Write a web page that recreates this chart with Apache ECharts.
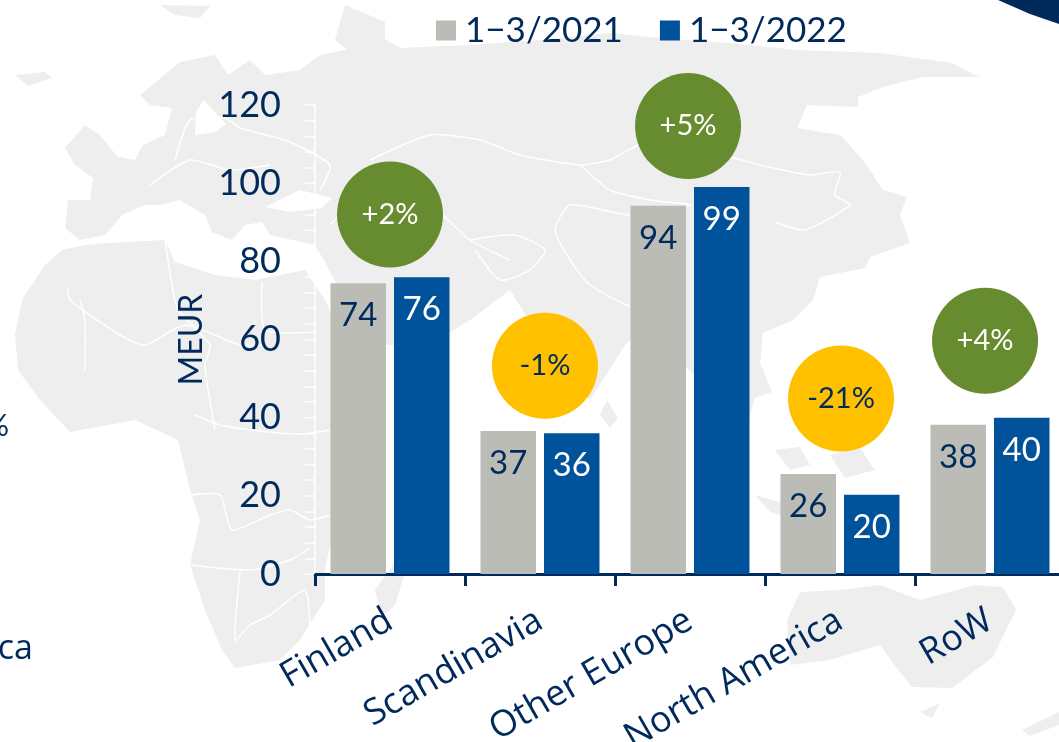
<!DOCTYPE html>
<html><head><meta charset="utf-8">
<style>html,body{margin:0;padding:0;background:#fff;overflow:hidden}#c{width:1059px;height:742px}</style>
<script src="https://cdn.jsdelivr.net/npm/echarts@6/dist/echarts.min.js"></script>
</head><body><div id="c"></div>
<script>
const categories = ['Finland','Scandinavia','Other Europe','North America','RoW'];
const seriesA = '1−3/2021';
const seriesB = '1−3/2022';
const values2021 = [74.4,36.6,94.2,25.6,38.2];
const values2022 = [75.9,36.0,99.0,20.3,40.0];
const changeLabels = ['+2%','-1%','+5%','-21%','+4%'];
const changeX = [0.5,1.533,2.487,3.507,4.467];
const changeY = [92,53.3,114.6,44.9,59.7];
const NAVY='#002A5C', GREY='#BBBCB6', BLUE='#00539B', GREEN='#678B2F', YELLOW='#FFC000', LAND='#EEEEEE';
const NUM='Lato, "Open Sans", sans-serif', TXT='"Open Sans", sans-serif';

const land = [
 [[68,200],[90,200],[93,178],[82,170],[110,155],[135,160],[143,145],[165,135],[172,108],[150,105],[140,95],[180,62],[215,55],[228,75],[250,60],[265,75],[300,70],[320,55],[345,50],[370,30],[400,48],[470,45],[540,40],[610,33],[660,38],[730,43],[797,50],[880,53],[952,63],[979,77],[923,77],[883,87],[858,97],[858,107],[807,105],[797,128],[840,135],[863,160],[883,190],[907,197],[900,215],[910,243],[870,257],[865,268],[820,277],[813,300],[793,320],[763,333],[760,363],[772,392],[755,398],[745,430],[680,360],[640,330],[625,345],[590,400],[575,385],[545,330],[527,317],[510,290],[470,320],[430,345],[385,345],[345,300],[325,262],[315,245],[270,235],[262,222],[245,225],[232,240],[212,232],[205,215],[180,200],[160,205],[145,205],[122,215],[105,235],[80,240],[65,228]],
 [[15,335],[22,300],[45,265],[62,250],[85,245],[108,243],[165,240],[175,262],[215,275],[255,280],[305,270],[325,300],[345,345],[385,345],[345,430],[335,520],[325,570],[325,600],[300,640],[280,660],[235,668],[222,650],[205,610],[190,565],[200,520],[190,490],[178,440],[135,420],[70,432],[40,400],[18,370]],
 [[787,620],[800,592],[840,590],[880,585],[920,600],[975,585],[1003,587],[1016,610],[993,657],[952,688],[912,687],[893,663],[880,645],[830,660],[790,665]],
 [[375,590],[395,562],[405,572],[395,605],[382,617]],
 [[65,148],[85,125],[100,135],[120,160],[85,172],[75,165]],
 [[15,75],[45,72],[52,78],[28,86]],
 [[920,712],[940,703],[932,718]],
 [[1022,730],[1059,712],[1059,725],[1030,736]],
 [[775,450],[800,447],[810,465],[790,470]],
 [[830,455],[860,448],[875,470],[845,478]],
 [[755,495],[790,505],[800,520],[770,512]],
 [[600,415],[607,400],[618,418],[610,428]],
 [[345,5],[385,22],[385,45],[355,55],[335,40]],
 [[160,5],[210,6],[200,18],[175,15]]
];
const seas = [
 [[265,207],[300,190],[332,198],[322,208],[290,212]],
 [[195,135],[215,132],[226,124],[204,100],[196,112]]
];
const borders = [
 [[68,288],[70,300],[120,335],[145,345],[185,325],[240,345],[262,345]],
 [[80,300],[85,320],[85,370]],
 [[165,240],[172,285],[178,310],[210,345],[205,365],[215,430]],
 [[262,282],[265,330],[315,332]],
 [[195,415],[220,425],[250,430],[300,434],[330,430]],
 [[190,495],[220,495],[232,530],[270,515],[290,510],[310,520],[330,515]],
 [[190,565],[250,570],[290,560],[310,548]],
 [[240,572],[235,640],[250,625],[270,615],[305,590],[310,630]],
 [[175,160],[190,120],[225,118],[240,128],[285,140],[330,165],[320,190]],
 [[150,185],[190,160],[230,170],[270,165]],
 [[330,225],[370,190],[430,205],[470,240],[510,260]],
 [[370,160],[430,135],[480,140],[520,155],[580,165],[610,160],[640,145],[660,160],[700,150],[760,165],[810,175],[840,172],[835,195],[850,205],[805,230],[775,222]],
 [[580,165],[610,190],[650,200],[690,205],[630,215],[570,205],[555,230],[570,260],[590,285],[640,310],[685,305]],
 [[470,240],[515,235],[545,250],[530,270],[500,280],[475,250]]
];
const graphics = [];
land.forEach(p=>graphics.push({type:'polygon',z:-3,silent:true,shape:{points:p},style:{fill:LAND}}));
seas.forEach(p=>graphics.push({type:'polygon',z:-2,silent:true,shape:{points:p},style:{fill:'#fff'}}));
borders.forEach(p=>graphics.push({type:'polyline',z:-2,silent:true,shape:{points:p,smooth:0.2},style:{fill:'none',stroke:'#fff',lineWidth:1.5}}));
graphics.push({type:'polygon',z:5,silent:true,shape:{points:[[998,0],[1059,0],[1059,24],[1030,14]]},style:{fill:NAVY}});
graphics.push({type:'text',z:5,silent:true,style:{x:33,y:649,text:'ca',align:'right',verticalAlign:'middle',fontFamily:TXT,fontSize:34,fill:NAVY}});
graphics.push({type:'text',z:5,silent:true,style:{x:9,y:426,text:'%',align:'right',verticalAlign:'middle',fontFamily:NUM,fontSize:30,fill:NAVY}});

const barLabel = c => ({show:true,position:'insideTop',distance:16,color:c,fontFamily:NUM,fontSize:33,formatter:p=>Math.round(p.value)});
const chart = echarts.init(document.getElementById('c'),null,{renderer:'canvas'});
chart.setOption({
 animation:false,
 backgroundColor:'#fff',
 legend:{left:431,top:8,itemWidth:20,itemHeight:20,itemGap:37,icon:'rect',
   data:[seriesA,seriesB],textStyle:{color:NAVY,fontFamily:NUM,fontSize:35,padding:[0,0,0,4]}},
 grid:{left:315,top:105,width:750,height:469,outerBoundsMode:'none'},
 xAxis:[
  {type:'category',data:categories,
   axisLine:{lineStyle:{color:NAVY,width:3}},
   axisTick:{show:true,length:12,alignWithLabel:false,lineStyle:{color:NAVY,width:3}},
   axisLabel:{rotate:30,color:NAVY,fontFamily:TXT,fontSize:36,margin:44,interval:0}},
  {type:'value',min:0,max:5,show:false}
 ],
 yAxis:{type:'value',min:0,max:120,interval:20,name:'MEUR',nameLocation:'middle',nameGap:98,
   nameTextStyle:{color:NAVY,fontFamily:NUM,fontSize:32},
   axisLine:{show:true,lineStyle:{color:'#fff',width:1.5}},
   axisTick:{show:true,length:10,lineStyle:{color:'#fff',width:1.5}},
   minorTick:{show:true,splitNumber:5,length:10,lineStyle:{color:'#fff',width:1.5}},
   splitLine:{show:false},
   axisLabel:{color:NAVY,fontFamily:NUM,fontSize:36,margin:34}},
 series:[
  {name:seriesA,type:'bar',data:values2021,barWidth:55.5,barGap:'14.4%',itemStyle:{color:GREY},label:barLabel(NAVY)},
  {name:seriesB,type:'bar',data:values2022,barWidth:55.5,itemStyle:{color:BLUE},label:barLabel('#fff')},
  {type:'scatter',xAxisIndex:1,symbol:'circle',symbolSize:106,z:4,
   data:changeY.map((y,i)=>({value:[changeX[i],y],label:{formatter:changeLabels[i],color:changeLabels[i][0]==='+'?'#fff':NAVY},
     itemStyle:{color:changeLabels[i][0]==='+'?GREEN:YELLOW,opacity:1}})),
   label:{show:true,position:'inside',fontFamily:NUM,fontSize:29}}
 ],
 graphic:{elements:graphics}
});
</script></body></html>
